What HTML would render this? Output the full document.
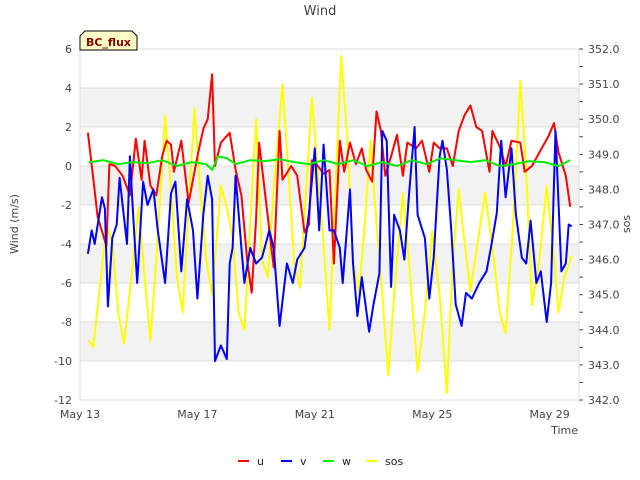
<!DOCTYPE html>
<html><head><meta charset="utf-8"><style>
body{margin:0;background:#fff}
svg{display:block;font-family:"DejaVu Sans","Liberation Sans",sans-serif}
</style></head><body>
<svg id="chart" width="640" height="480" viewBox="0 0 640 480">
<g id="bands"></g><g id="grid"></g><g id="axes"></g><g id="series"></g>
<text x="320" y="15" text-anchor="middle" font-size="13" fill="#444">Wind</text>
<text transform="translate(18,224) rotate(-90)" text-anchor="middle" font-size="11" fill="#444">Wind (m/s)</text>
<text transform="translate(630,224) rotate(-90)" text-anchor="middle" font-size="11" fill="#444">sos</text>
<text x="578" y="434" text-anchor="end" font-size="11" fill="#444">Time</text>
<g>
<path d="M80,50 L80,36 L85,31 L132,31 L137,36 L137,50 Z" fill="#ffffc8" stroke="#000" stroke-width="1"/>
<text x="108.5" y="46" text-anchor="middle" font-size="11" font-weight="bold" fill="#8b0000">BC_flux</text>
</g>
<g id="legend"></g>
</svg>
<script>
const uDays=[13.27,13.45,13.6,13.9,14.0,14.2,14.45,14.7,14.9,15.1,15.2,15.4,15.6,15.8,15.95,16.1,16.2,16.45,16.7,17.0,17.2,17.35,17.5,17.6,17.8,18.1,18.3,18.5,18.7,18.85,19.0,19.1,19.35,19.6,19.8,19.9,20.2,20.4,20.65,20.8,20.9,21.1,21.3,21.5,21.65,21.85,22.0,22.2,22.4,22.6,22.75,22.95,23.1,23.25,23.4,23.6,23.8,24.0,24.15,24.45,24.65,24.9,25.05,25.25,25.5,25.7,25.9,26.1,26.3,26.5,26.7,26.95,27.05,27.3,27.5,27.7,28.0,28.15,28.4,28.65,28.95,29.15,29.3,29.55,29.7];
const uVals=[1.7,-0.6,-2.6,-4.1,0.1,0,-0.5,-1.5,1.4,-0.7,1.3,-1,-1.5,0.5,1.3,1.1,-0.3,1.3,-1.9,0.5,1.9,2.4,4.7,0,1.2,1.7,-0.2,-1.5,-4.9,-6.5,-2.7,1.2,-2,-5.2,1.8,-0.7,0,-0.5,-3.4,-3,0.3,0,-0.4,-0.2,-5,1.3,-0.3,1.2,0.1,0.9,-0.2,-0.8,2.8,1.8,-0.5,0.5,1.6,-0.5,1.2,0.9,1.3,-0.3,1.2,0.9,0.9,0,1.8,2.6,3.1,2.0,1.8,-0.3,1.8,1.0,0,1.3,1.2,-0.3,0,0.7,1.5,2.2,0.7,-0.5,-2.1];
const vDays=[13.27,13.4,13.5,13.75,13.85,13.95,14.1,14.25,14.35,14.45,14.6,14.7,14.8,14.95,15.15,15.3,15.5,15.65,15.9,16.1,16.25,16.45,16.65,16.85,17.0,17.2,17.35,17.5,17.6,17.8,18.0,18.1,18.2,18.3,18.5,18.6,18.8,19.0,19.2,19.45,19.6,19.8,20.05,20.25,20.4,20.65,20.8,21.0,21.15,21.3,21.5,21.65,21.85,21.95,22.2,22.3,22.45,22.6,22.85,23.0,23.2,23.3,23.45,23.6,23.7,23.9,24.05,24.2,24.4,24.5,24.75,24.9,25.05,25.25,25.35,25.5,25.65,25.8,26.0,26.15,26.35,26.6,26.85,27.0,27.2,27.35,27.5,27.7,27.85,28.05,28.2,28.35,28.55,28.7,28.9,29.05,29.2,29.4,29.55,29.65,29.75];
const vVals=[-4.5,-3.3,-4,-1.6,-2.2,-7.2,-3.7,-3,-0.6,-2,-4,0.5,-2.2,-6,-0.8,-2,-1.2,-3.3,-6,-1.4,-0.8,-5.4,-1.7,-3.3,-6.8,-2.5,-0.5,-1.7,-10,-9.2,-9.9,-5,-4.2,-0.5,-4.2,-6,-4.2,-5,-4.7,-3.3,-4.2,-8.2,-5,-6,-4.8,-4.2,-2.4,0.9,-3.3,1.1,-3.3,-3.3,-4.2,-6,-1.2,-5,-7.7,-5.7,-8.5,-7.1,-5.5,1.8,1.3,-6.2,-2.5,-3.3,-4.8,-1.6,2,-2.5,-3.7,-6.8,-4.7,0.5,1.3,-0.2,-3.3,-7.1,-8.2,-6.5,-6.8,-6,-5.4,-4.2,-2.4,1.3,-1.6,0.9,-2.5,-4.7,-5,-2.8,-6,-5.4,-8,-6,1.8,-5.4,-5,-3,-3.1];
const wDays=[13.3,13.8,14.3,14.8,15.3,15.8,16.3,16.8,17.3,17.5,17.7,18.0,18.3,18.8,19.3,19.8,20.3,20.8,21.3,21.8,22.3,22.8,23.3,23.8,24.3,24.8,25.3,25.8,26.3,26.8,27.3,27.8,28.3,28.8,29.3,29.7];
const wVals=[0.2,0.3,0.1,0.2,0.15,0.3,0.0,0.2,0.1,-0.2,0.5,0.4,0.1,0.3,0.25,0.35,0.2,0.1,0.3,0.1,0.3,0.0,0.2,0.0,0.3,0.1,0.4,0.3,0.2,0.3,0.0,0.1,0.25,0.2,0.0,0.3];
const sDays=[13.3,13.45,13.65,13.9,14.1,14.3,14.5,14.75,15.0,15.2,15.4,15.6,15.9,16.1,16.3,16.5,16.7,16.9,17.1,17.3,17.5,17.8,18.0,18.2,18.4,18.6,18.8,19.0,19.2,19.4,19.6,19.9,20.1,20.3,20.5,20.7,20.9,21.1,21.3,21.5,21.7,21.9,22.1,22.3,22.5,22.7,22.9,23.1,23.3,23.5,23.7,24.0,24.2,24.5,24.75,25.0,25.25,25.5,25.7,25.9,26.1,26.3,26.55,26.8,27.1,27.3,27.5,27.75,28.0,28.2,28.4,28.65,28.9,29.1,29.3,29.5,29.75];
const sVals=[343.7,343.5,345.0,347.0,346.5,344.5,343.6,345.5,347.5,345.5,343.7,346,350.1,348,345.5,344.5,347.5,350.3,348,346,345,348.1,347.5,346.6,344.5,344.0,347,350,346,345.5,348,351,348.5,345.9,345.2,348,350.6,348.5,346.4,344,348,351.8,349.5,346,345,347,349.4,347,345,342.7,345,347.9,346,342.8,344.5,346.8,345,342.2,346,348,346.5,345.1,346.5,347.9,346,344.5,343.9,347,351.1,348.5,344.7,346,348.1,346.5,344.5,345.5,346.1];
const leftTicks=[6,4,2,0,-2,-4,-6,-8,-10,-12];
const rightTicks=[352.0,351.0,350.0,349.0,348.0,347.0,346.0,345.0,344.0,343.0,342.0];
const xTickDays=[13,17,21,25,29];
const xTickLabels=["May 13","May 17","May 21","May 25","May 29"];

const NS="http://www.w3.org/2000/svg";
const L=80,R=579,T=49,B=400;
const xs=d=>L+(d-13)*(R-L)/(30-13);
const yL=v=>T+(6-v)*(B-T)/18;
const yR=v=>T+(352-v)*(B-T)/10;
function mk(tag,attrs,parent){const e=document.createElementNS(NS,tag);for(const k in attrs)e.setAttribute(k,attrs[k]);parent.appendChild(e);return e;}
const bands=document.getElementById('bands'),grid=document.getElementById('grid'),axes=document.getElementById('axes'),ser=document.getElementById('series'),leg=document.getElementById('legend');
[[4,2],[0,-2],[-4,-6],[-8,-10]].forEach(b=>{
 const r=mk('rect',{x:L,y:yL(b[0]),width:R-L,height:yL(b[1])-yL(b[0]),fill:'#f2f2f2'},bands);
 
 
});
leftTicks.forEach(t=>{
 const g=mk('line',{x1:L,x2:R,y1:yL(t),y2:yL(t),stroke:'#dcdcdc','stroke-width':1},grid);
 
 
 const tx=mk('text',{x:72,y:yL(t)+4,'text-anchor':'end','font-size':11,fill:'#444'},axes);
 tx.textContent=String(t);
 
 
});
rightTicks.forEach((t,i)=>{
 const tx=mk('text',{x:588,y:yR(t)+4,'font-size':11,fill:'#444'},axes);
 tx.textContent=t.toFixed(1);
 
 
 mk('line',{x1:R,x2:R+4,y1:yR(t),y2:yR(t),stroke:'#444'},axes);
 if(i<rightTicks.length-1){mk('line',{x1:R,x2:R+4,y1:yR(t-0.5),y2:yR(t-0.5),stroke:'#444'},axes);}
});
mk('line',{x1:L,x2:L,y1:T,y2:B,stroke:'#dcdcdc'},axes);
mk('line',{x1:R,x2:R,y1:T,y2:B,stroke:'#dcdcdc'},axes);
xTickDays.forEach((d,i)=>{
 const tx=mk('text',{x:xs(d),y:418,'text-anchor':'middle','font-size':11,fill:'#444'},axes);
 tx.textContent=xTickLabels[i];
 
 
});
function line(days,vals,yf,color,name,w){
 const p=mk('polyline',{points:days.map((d,i)=>xs(d).toFixed(1)+','+yf(vals[i]).toFixed(1)).join(' '),fill:'none',stroke:color,'stroke-width':w,'stroke-linejoin':'round'},ser);
 
 
}
line(sDays,sVals,yR,'#ffff00','sos-line',2);
line(uDays,uVals,yL,'#ff0000','u-line',2);
line(vDays,vVals,yL,'#0000ff','v-line',2);
line(wDays,wVals,yL,'#00ee00','w-line',2);
[['u','#ff0000',238],['v','#0000ff',281],['w','#00ee00',323],['sos','#ffff00',366]].forEach(e=>{
 const g=mk('g',{},leg);
 
 
 mk('line',{x1:e[2],x2:e[2]+11,y1:461,y2:461,stroke:e[1],'stroke-width':2},g);
 const t=mk('text',{x:e[2]+19,y:465,'font-size':11,fill:'#222'},g);
 t.textContent=e[0];
});
</script>
</body></html>
